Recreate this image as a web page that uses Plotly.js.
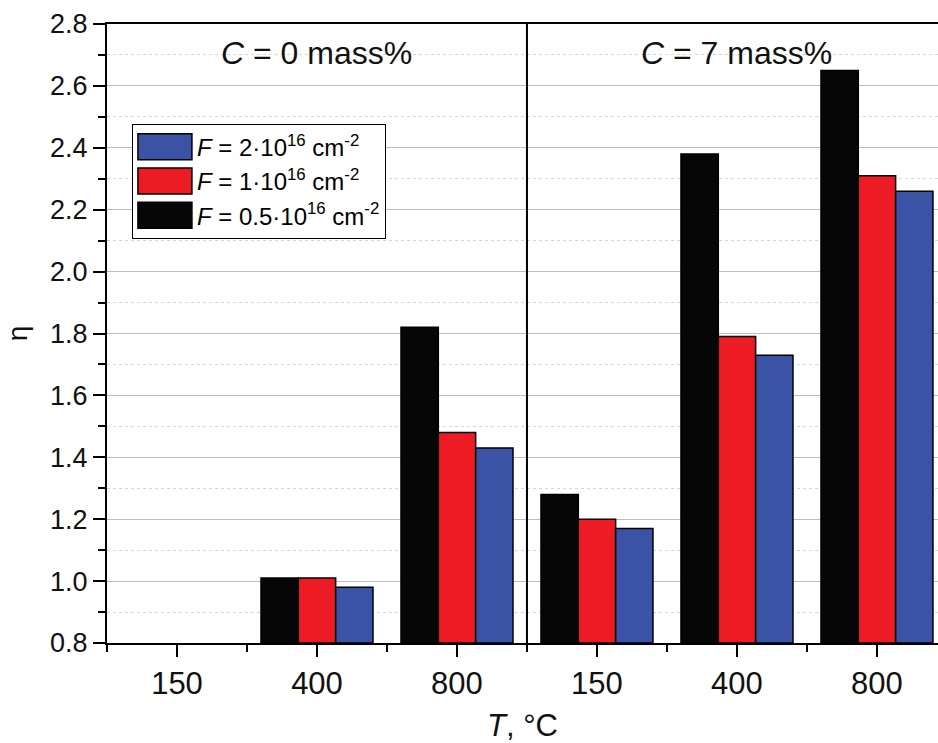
<!DOCTYPE html>
<html>
<head>
<meta charset="utf-8">
<script src="https://cdn.plot.ly/plotly-3.0.1.min.js"></script>
<style>
html,body{margin:0;padding:0;background:#fff;overflow:hidden;}
#chart{width:938px;height:743px;}
</style>
</head>
<body>
<div id="chart"></div>
<script>
// Temperatures (two panels: C = 0 mass% and C = 7 mass%)
const tickLabels = ['150', '400', '800', '150', '400', '800'];
const positions = [0, 1, 2, 3, 4, 5];
const panelLabels = ['<i>C</i> = 0 mass%', '<i>C</i> = 7 mass%'];
const seriesNames = [
  '<i>F</i> = 0.5·10<sup>16</sup> cm<sup>-2</sup>',
  '<i>F</i> = 1·10<sup>16</sup> cm<sup>-2</sup>',
  '<i>F</i> = 2·10<sup>16</sup> cm<sup>-2</sup>'
];
// eta values (null = no bar)
const etaF05 = [null, 1.01, 1.82, 1.28, 2.38, 2.65];
const etaF1  = [null, 1.01, 1.48, 1.20, 1.79, 2.31];
const etaF2  = [null, 0.98, 1.43, 1.17, 1.73, 2.26];

const colors = ['#060606', '#ED1C24', '#3A53A4'];
const FONT = 'Liberation Sans, Arial, sans-serif';
const BASE = 0.8;

const seriesVals = [etaF05, etaF1, etaF2];
const traces = seriesVals.map((v, i) => ({
  type: 'bar',
  x: positions,
  y: v.map(val => val === null ? null : val - BASE),
  base: BASE,
  name: seriesNames[i],
  marker: {color: colors[i], line: {color: '#000', width: 1.5}},
  hoverinfo: 'skip'
}));

const layout = {
  width: 938, height: 743,
  margin: {l: 107, r: 0, t: 24, b: 100},
  paper_bgcolor: '#fff', plot_bgcolor: '#fff',
  font: {family: FONT, color: '#000'},
  barmode: 'group',
  bargap: 0.2,
  bargroupgap: 0,
  showlegend: true,
  legend: {
    x: 0.030, y: 0.839, xanchor: 'left', yanchor: 'top',
    traceorder: 'reversed',
    bordercolor: '#000', borderwidth: 1, bgcolor: '#fff',
    font: {family: FONT, size: 24, color: '#000'},
    itemwidth: 54,
    tracegroupgap: 0
  },
  xaxis: {
    range: [-0.5, 5.436],
    tickmode: 'array', tickvals: positions, ticktext: tickLabels,
    ticks: 'outside', ticklen: 12, tickwidth: 2, tickcolor: '#000',
    showline: true, linewidth: 2, linecolor: '#000', mirror: true,
    showgrid: false, zeroline: false,
    tickfont: {family: FONT, size: 31, color: '#111'},
    minor: {tickvals: [-0.5, 0.5, 1.5, 2.5, 3.5, 4.5], ticks: 'outside', ticklen: 7, tickwidth: 2, tickcolor: '#000', showgrid: false},
    title: {text: '<i>T</i>, °C', font: {family: FONT, size: 31, color: '#111'}, standoff: 14}
  },
  yaxis: {
    range: [0.8, 2.8],
    tickmode: 'linear', tick0: 0.8, dtick: 0.2, tickformat: '.1f',
    ticks: 'outside', ticklen: 12, tickwidth: 2, tickcolor: '#000',
    showline: true, linewidth: 2, linecolor: '#000',
    showgrid: true, gridcolor: '#bdbdbd', gridwidth: 1,
    zeroline: false,
    tickfont: {family: FONT, size: 27, color: '#111'},
    minor: {dtick: 0.1, tick0: 0.8, ticks: 'outside', ticklen: 7, tickwidth: 2, tickcolor: '#000', showgrid: true, gridcolor: '#d6d6d6', griddash: 'dot', gridwidth: 1},
    title: {text: 'η', font: {family: FONT, size: 28, color: '#111'}, standoff: 14}
  },
  shapes: [
    {type: 'line', xref: 'x', yref: 'paper', x0: 2.5, x1: 2.5, y0: 0, y1: 1, line: {color: '#000', width: 2}}
  ],
  annotations: [
    {text: panelLabels[0], xref: 'x', yref: 'paper', x: 1, y: 0.953, xanchor: 'center', yanchor: 'middle', showarrow: false, font: {family: FONT, size: 32, color: '#111'}},
    {text: panelLabels[1], xref: 'x', yref: 'paper', x: 4, y: 0.953, xanchor: 'center', yanchor: 'middle', showarrow: false, font: {family: FONT, size: 32, color: '#111'}}
  ]
};

Plotly.newPlot('chart', traces, layout, {displayModeBar: false, staticPlot: true}).then(function(gd) {
  // enlarge legend swatches to match the reference's wide rectangles
  gd.querySelectorAll('.legend .legendpoints path').forEach(function(p) {
    p.setAttribute('d', 'M27,13H-27V-13H27Z');
    p.style.strokeWidth = '1.5px';
  });
});
</script>
</body>
</html>
